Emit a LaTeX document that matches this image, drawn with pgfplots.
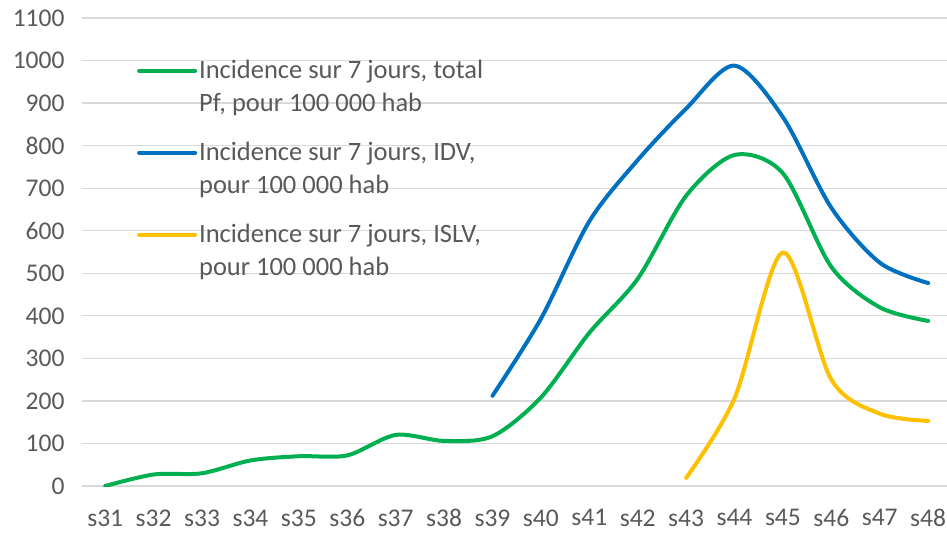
\documentclass[border=0pt]{standalone}
\usepackage{pgfplots}
\pgfplotsset{compat=1.18}
\usepackage{fontspec}
\setmainfont{Carlito}
\definecolor{cgreen}{HTML}{00B050}
\definecolor{cblue}{HTML}{0070C0}
\definecolor{cyellow}{HTML}{FFC000}
\definecolor{cgrid}{HTML}{D9D9D9}
\definecolor{ctext}{HTML}{595959}
\begin{document}
\begin{tikzpicture}
\begin{axis}[
  scale only axis,
  width=865pt, height=468pt,
  xmin=-0.48, xmax=17.39,
  ymin=0, ymax=1100,
  xtick={0,...,17},
  xticklabels={s31,s32,s33,s34,s35,s36,s37,s38,s39,s40,s41,s42,s43,s44,s45,s46,s47,s48},
  ytick={0,100,...,1100},
  ymajorgrids,
  grid style={cgrid, line width=1.3pt},
  axis line style={draw=none},
  major tick length=0pt,
  tick label style={font=\fontsize{25.5}{30}\selectfont, text=ctext},
  /pgf/number format/assume math mode=true,
  /pgf/number format/1000 sep={},
  yticklabel style={xshift=-14pt},
  xticklabel style={yshift=-20pt},
  legend style={
    at={(0.06,0.918)}, anchor=north west, draw=none, fill=none,
    font=\fontsize{26.5}{32.5}\selectfont, text=ctext,
    row sep=25.5pt, column sep=0pt,
    cells={anchor=west, align=left, inner sep=2pt},
  },
  legend image code/.code={\draw[#1, line width=4pt, line cap=round] (0pt,16pt) -- (56pt,16pt);},
  every axis plot/.append style={line width=4pt, line cap=round, line join=round, smooth, no markers},
]
\addplot[cgreen] coordinates {
(0,0) (1,27) (2,30) (3,60) (4,70) (5,72) (6,120) (7,106) (8,117) (9,208)
(10,360) (11,487) (12,682) (13,778) (14,735) (15,515) (16,420) (17,388)};
\addlegendentry{Incidence sur 7 jours, total\\Pf, pour 100 000 hab}
\addplot[cblue] coordinates {
(8,212) (9,393) (10,622) (11,766) (12,887) (13,988) (14,867) (15,654) (16,525) (17,477)};
\addlegendentry{Incidence sur 7 jours, IDV,\\pour 100 000 hab}
\addplot[cyellow] coordinates {
(12,19) (13,206) (14,549) (15,250) (16,170) (17,153)};
\addlegendentry{Incidence sur 7 jours, ISLV,\\pour 100 000 hab}
\end{axis}
\pgfresetboundingbox
\path (-82pt,-49pt) rectangle (865pt,486pt);
\end{tikzpicture}
\end{document}
